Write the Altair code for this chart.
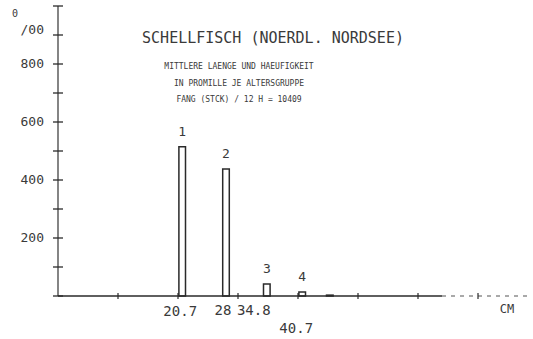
import altair as alt
import pandas as pd

# ---- data ----
age_groups = ["1", "2", "3", "4", "5"]
mean_length_cm = [20.7, 28.0, 34.8, 40.7, 45.3]
per_mille = [515, 438, 41, 14, 3]
length_labels = ["20.7", "28", "34.8", "40.7", ""]
y_tick_values = list(range(0, 1001, 100))
y_label_values = [200, 400, 600, 800]
x_tick_values = list(range(10, 80, 10))

title_text = "SCHELLFISCH (NOERDL. NORDSEE)"
subtitle_lines = [
    "MITTLERE LAENGE UND HAEUFIGKEIT",
    "IN PROMILLE JE ALTERSGRUPPE",
    "FANG (STCK) / 12 H = 10409",
]

FONT = "DejaVu Sans Mono"
INK = "#2a2a2a"
TXT = "#3a3a3a"

xs = alt.Scale(domain=[0, 79], nice=False, zero=False)
ys = alt.Scale(domain=[0, 1000], nice=False, zero=False)

bars = pd.DataFrame({"group": age_groups, "mean": mean_length_cm,
                     "pm": per_mille, "lab": length_labels})

# y axis line
y_axis = alt.Chart(pd.DataFrame({"a": [0], "b": [1000]})).mark_rule(
    color="#666", strokeWidth=1.6).encode(
    x=alt.value(0), y=alt.Y("a:Q", scale=ys, axis=None), y2="b:Q")

y_ticks = alt.Chart(pd.DataFrame({"v": y_tick_values})).mark_rule(
    color=INK, strokeWidth=1.3).encode(
    x=alt.value(-5), x2=alt.value(5), y=alt.Y("v:Q", scale=ys, axis=None))

y_labels = alt.Chart(pd.DataFrame({"v": y_label_values})).mark_text(
    align="right", baseline="middle", font=FONT, fontSize=13, color=TXT, dx=0).encode(
    x=alt.value(-14), y=alt.Y("v:Q", scale=ys, axis=None), text="v:Q")

# x axis: solid part and dotted continuation
x_axis_solid = alt.Chart(pd.DataFrame({"a": [0], "b": [64]})).mark_rule(
    color=INK, strokeWidth=1.3).encode(
    x=alt.X("a:Q", scale=xs, axis=None), x2="b:Q", y=alt.value(290))
x_axis_dot = alt.Chart(pd.DataFrame({"a": [64], "b": [79]})).mark_rule(
    color="#555", strokeWidth=1.2, strokeDash=[4, 5]).encode(
    x=alt.X("a:Q", scale=xs, axis=None), x2="b:Q", y=alt.value(290))

x_ticks = alt.Chart(pd.DataFrame({"v": x_tick_values})).mark_rule(
    color=INK, strokeWidth=1.2).encode(
    x=alt.X("v:Q", scale=xs, axis=None), y=alt.value(287), y2=alt.value(293))

# bars (hollow)
bar_layer = alt.Chart(bars).transform_calculate(
    x0="datum.mean - 0.55", x1="datum.mean + 0.55", base="0").mark_rect(
    fillOpacity=0, stroke=INK, strokeWidth=1.5).encode(
    x=alt.X("x0:Q", scale=xs, axis=None), x2="x1:Q",
    y=alt.Y("pm:Q", scale=ys, axis=None), y2="base:Q")

bar_nums = alt.Chart(bars).transform_filter("datum.pm > 5").mark_text(
    baseline="bottom", dy=-8, font=FONT, fontSize=13, color=TXT).encode(
    x=alt.X("mean:Q", scale=xs, axis=None),
    y=alt.Y("pm:Q", scale=ys, axis=None), text="group:N")

# length labels under the axis (typewriter-style placement)
label_dx = {"20.7": -2, "28": -3, "34.8": -13, "40.7": -6}
label_dy = {"20.7": 16, "28": 15, "34.8": 15, "40.7": 33}
len_labels = []
for lab, dx in label_dx.items():
    len_labels.append(
        alt.Chart(bars).transform_filter(f"datum.lab == '{lab}'").mark_text(
            baseline="middle", align="center", dx=dx, dy=label_dy[lab],
            font=FONT, fontSize=14, color=TXT).encode(
            x=alt.X("mean:Q", scale=xs, axis=None),
            y=alt.value(290), text="lab:N"))

cm_label = alt.Chart(pd.DataFrame({"t": ["CM"]})).mark_text(
    font=FONT, fontSize=12, color=TXT, baseline="middle").encode(
    x=alt.value(449), y=alt.value(303), text="t:N")

promille_a = alt.Chart(pd.DataFrame({"t": ["0"]})).mark_text(
    font=FONT, fontSize=10, color=TXT, baseline="middle").encode(
    x=alt.value(-43), y=alt.value(8), text="t:N")
promille_b = alt.Chart(pd.DataFrame({"t": ["/00"]})).mark_text(
    font=FONT, fontSize=13, color=TXT, baseline="middle", align="right").encode(
    x=alt.value(-14), y=alt.value(24), text="t:N")

title_layer = alt.Chart(pd.DataFrame({"t": [title_text]})).mark_text(
    font=FONT, fontSize=15, color=TXT, baseline="middle").encode(
    x=alt.value(215), y=alt.value(32), text="t:N")

sub_df = pd.DataFrame({"t": subtitle_lines, "i": list(range(len(subtitle_lines)))})
sub_layer = alt.Chart(sub_df).transform_calculate(
    py="61 + datum.i * 16.5").mark_text(
    font=FONT, fontSize=8, color=TXT, baseline="middle").encode(
    x=alt.value(181), y=alt.Y("py:Q", scale=alt.Scale(domain=[0, 290], range=[0, 290]), axis=None),
    text="t:N")

chart = alt.layer(
    y_axis, y_ticks, y_labels, x_axis_solid, x_axis_dot, x_ticks,
    bar_layer, bar_nums, *len_labels, cm_label, promille_a, promille_b,
    title_layer, sub_layer
).resolve_scale(y="independent").properties(
    width=474, height=290,
    autosize=alt.AutoSizeParams(type="none"),
    padding={"left": 58, "top": 6, "right": 1, "bottom": 43},
    background="white",
).configure_view(stroke=None)

chart.save("out.html", embed_options={"renderer": "svg", "actions": False})
